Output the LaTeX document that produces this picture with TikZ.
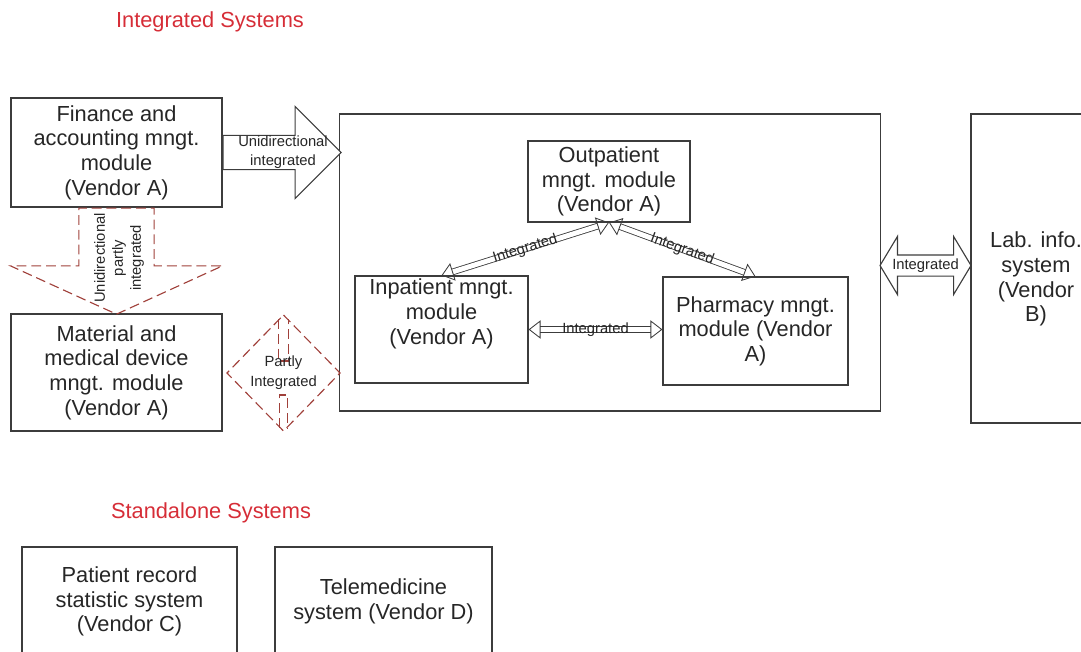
\documentclass[tikz,border=0pt]{standalone}
\usepackage{fontspec}
\setmainfont{Liberation Sans}
\usepackage{tikz}
\usetikzlibrary{calc}
\usetikzlibrary{shapes.geometric, shapes.arrows, arrows.meta}
\definecolor{boxgray}{RGB}{60,60,60}
\definecolor{titlered}{RGB}{214,45,55}
\definecolor{dashred}{RGB}{160,64,58}
\tikzstyle{module} = [rectangle, 
draw=boxgray, 
line width=0.8pt, 
align=center, 
inner sep=1pt, 
text=black!85, 
font=\fontsize{15.5}{17.5}\selectfont]
\tikzstyle{heading} = [text=titlered, 
font=\fontsize{15.5}{17.5}\selectfont]
\tikzstyle{tag} = [align=center, 
inner sep=0pt, 
text=black!85, 
font=\fontsize{10.5}{13.5}\selectfont]
\tikzstyle{blockarrow} = [single arrow, 
draw=boxgray, 
line width=0.8pt, 
fill=white, 
inner xsep=0pt]
\tikzstyle{dasharrow} = [single arrow, 
draw=dashred, 
line width=0.8pt, 
dash pattern=on 7pt off 3.5pt, 
inner xsep=0pt]
\tikzstyle{dashline} = [draw=dashred, line width=0.8pt, dash pattern=on 7pt off 3.5pt]
\tikzstyle{link} = [draw=boxgray, line width=0.6pt, double=white, double distance=3.5pt,
arrows={Triangle[open, length=8.5pt, width=13pt]-Triangle[open, length=8.5pt, width=13pt]}]

\begin{document}
\begin{tikzpicture}[x=0.025cm, y=-0.025cm]
    \useasboundingbox (0,0) rectangle (1081,652);
    \clip (0,0) rectangle (1081,652);

    \node (intsys) [heading] at (210,22) {Integrated Systems};
    \node (finance) [module, minimum width=5.275cm, minimum height=2.725cm] at (116.5,152.5) {Finance and\\accounting mngt.\\module\\(Vendor A)};
    \node (material) [module, minimum width=5.275cm, minimum height=2.925cm] at (116.5,372.5) {Material and\\medical device\\mngt. module\\(Vendor A)};

    \node (core) [module, minimum width=13.5cm, minimum height=7.425cm] at (610,262.5) {};
    \node (outpatient) [module, minimum width=4.05cm, minimum height=2.025cm] at (609,181.5) {Outpatient\\mngt. module\\(Vendor A)};
    \node (inpatient) [module, minimum width=4.325cm, minimum height=2.675cm, text depth=0.9cm] at (441.5,329.5) {Inpatient mngt.\\module\\(Vendor A)};
    \node (pharmacy) [module, minimum width=4.625cm, minimum height=2.7cm] at (755.5,331) {Pharmacy mngt.\\module (Vendor\\A)};
    \node (lab) [module, minimum width=3.25cm, minimum height=7.725cm, text height=2.77cm] at (1036,268.5) {Lab. info.\\system\\(Vendor\\B)};

    \node (standalone) [heading] at (211,513) {Standalone Systems};
    \node (patient) [module, minimum width=5.375cm, minimum height=2.725cm] at (129.5,601.5) {Patient record\\statistic system\\(Vendor C)};
    \node (telemed) [module, minimum width=5.425cm, minimum height=2.725cm] at (383.5,601.5) {Telemedicine\\system (Vendor D)};

    % block arrows
    \node (finarrow) [blockarrow, anchor=tail, minimum height=2.95cm, inner ysep=0.4125cm, single arrow head extend=0.725cm] at (finance.east) {};
    \node (fintag) [tag] at (283,152) {Unidirectional\\integrated};
    \node (labarrow) [double arrow, draw=boxgray, line width=0.8pt, fill=white, inner xsep=0pt, inner ysep=0.25cm,
        minimum height=2.275cm, double arrow head extend=0.4625cm, double arrow tip angle=118]
        at ($(core.east)!0.5!(lab.west)$) {};
    \node (labtag) [tag] at (labarrow) {Integrated};

    % dashed arrows
    \node (downarrow) [dasharrow, rotate=-90, anchor=tail, minimum height=2.65cm, inner ysep=0.925cm, single arrow head extend=1.7125cm, single arrow tip angle=131] at (finance.south) {};
    \node (downtag) [tag, rotate=90, font=\fontsize{10.5}{12.8}\selectfont] at (119,258) {Unidirectional\\partly\\integrated};
    \coordinate (partly) at (283.5,373);
    \draw [dashline] ($(partly)+(0,-58)$) -- ($(partly)+(56.5,0)$) -- ($(partly)+(0,58)$) -- ($(partly)+(-56.5,0)$) -- cycle;
    \draw [dashline] ($(partly)+(-5,-54)$) -- ++(0,42) -- ++(10,0) -- ++(0,-42);
    \draw [dashline] ($(partly)+(-4,55)$) -- ++(0,-33) -- ++(8,0) -- ++(0,33);
    \node (partlytag) [tag, font=\fontsize{10.5}{14}\selectfont] at (partly) {Partly\\Integrated};

    % links inside the core box
    \draw [link] (outpatient.south) -- (inpatient.north) node[midway, sloped, tag] {Integrated};
    \draw [link] (outpatient.south) -- (pharmacy.north) node[midway, sloped, tag] {Integrated};
    \draw [link] (inpatient.east) -- (inpatient.east -| pharmacy.west) node[midway, tag] {Integrated};
\end{tikzpicture}
\end{document}
